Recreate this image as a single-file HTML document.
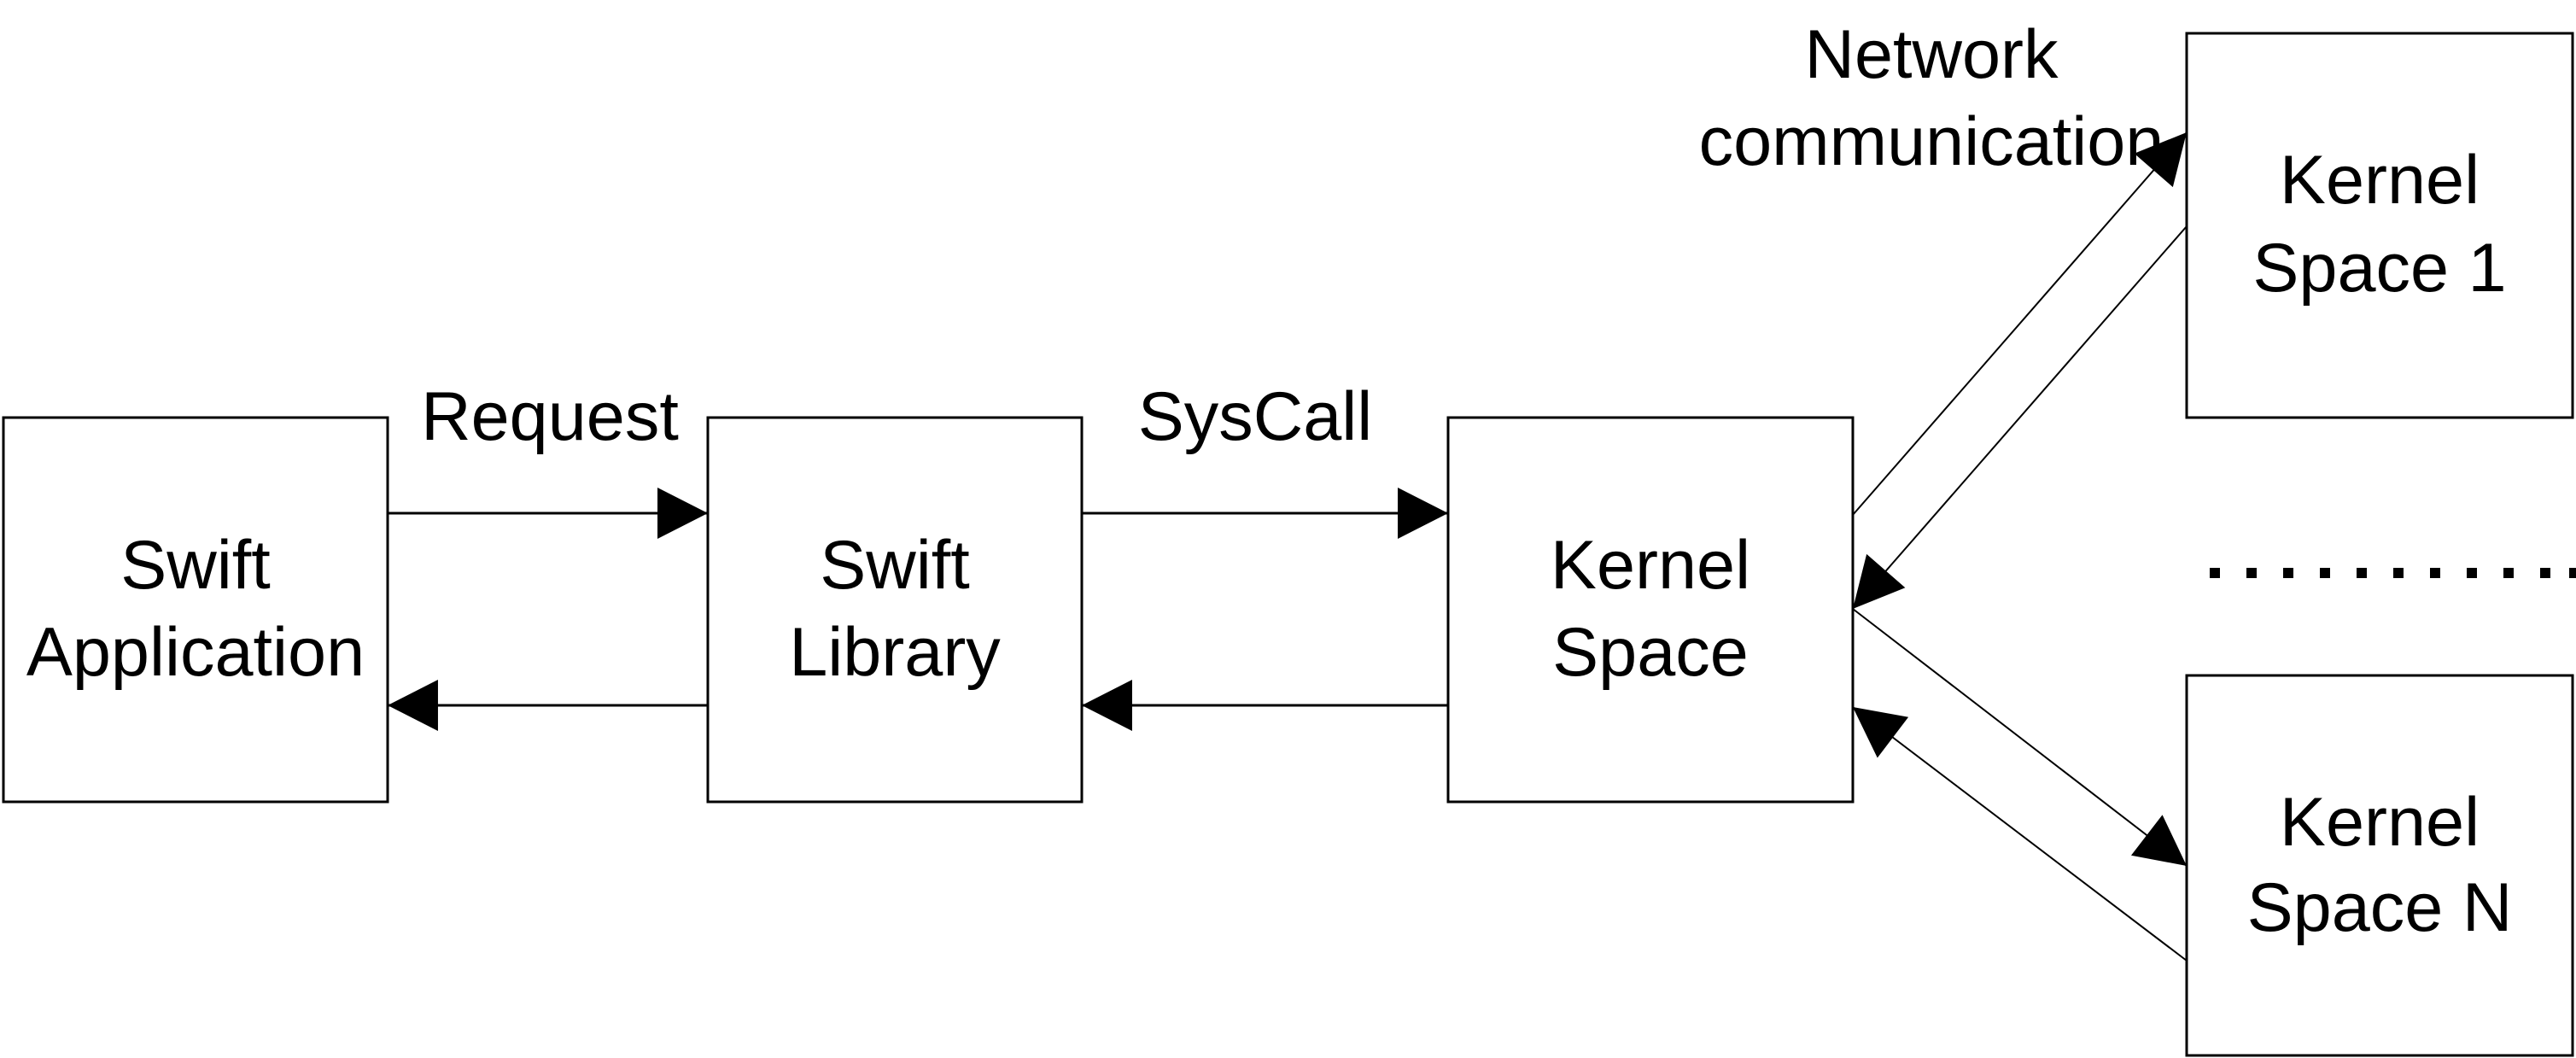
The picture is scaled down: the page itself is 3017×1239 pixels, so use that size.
<!DOCTYPE html>
<html><head><meta charset="utf-8"><style>
html,body{margin:0;padding:0;background:#fff;}
svg{display:block;}
text{font-family:"Liberation Sans",sans-serif;font-size:81px;fill:#000;text-anchor:middle;}
</style></head><body>
<svg width="3017" height="1239" viewBox="0 0 3017 1239" xmlns="http://www.w3.org/2000/svg">
<defs>
<marker id="a" markerUnits="userSpaceOnUse" markerWidth="60" markerHeight="60" viewBox="0 0 57 58" refX="57" refY="29" orient="auto">
<polygon points="0,0 57,29 0,58" fill="#000"/>
</marker>
</defs>
<g fill="none" stroke="#000" stroke-width="3">
<rect x="4" y="489" width="450" height="450"/>
<rect x="829" y="489" width="438" height="450"/>
<rect x="1696" y="489" width="474" height="450"/>
<rect x="2561" y="39" width="452" height="450"/>
<rect x="2561" y="791" width="452" height="445"/>
</g>
<g stroke="#000" stroke-width="3" marker-end="url(#a)">
<line x1="454" y1="601" x2="829" y2="601"/>
<line x1="829" y1="826" x2="454" y2="826"/>
<line x1="1267" y1="601" x2="1696" y2="601"/>
<line x1="1696" y1="826" x2="1267" y2="826"/>
</g>
<g stroke="#000" stroke-width="2" marker-end="url(#a)">
<line x1="2170" y1="603" x2="2561" y2="155"/>
<line x1="2561" y1="265" x2="2170" y2="713"/>
<line x1="2170" y1="713" x2="2561" y2="1014"/>
<line x1="2561" y1="1125" x2="2170" y2="828"/>
</g>
<g fill="#000">
<rect x="2588" y="665" width="12" height="12"/><rect x="2631" y="665" width="12" height="12"/><rect x="2674" y="665" width="12" height="12"/><rect x="2717" y="665" width="12" height="12"/><rect x="2760" y="665" width="12" height="12"/><rect x="2803" y="665" width="12" height="12"/><rect x="2846" y="665" width="12" height="12"/><rect x="2889" y="665" width="12" height="12"/><rect x="2932" y="665" width="12" height="12"/><rect x="2975" y="665" width="12" height="12"/><rect x="3009" y="665" width="8" height="12"/>
</g>
<text x="229" y="689">Swift</text>
<text x="229" y="791">Application</text>
<text x="1048" y="689">Swift</text>
<text x="1048" y="791">Library</text>
<text x="1933" y="689">Kernel</text>
<text x="1933" y="791">Space</text>
<text x="2787" y="238">Kernel</text>
<text x="2787" y="341">Space 1</text>
<text x="2787" y="990">Kernel</text>
<text x="2787" y="1090">Space N</text>
<text x="644" y="515">Request</text>
<text x="1470" y="515">SysCall</text>
<text x="2262" y="91">Network</text>
<text x="2262" y="193">communication</text>
</svg>
</body></html>
